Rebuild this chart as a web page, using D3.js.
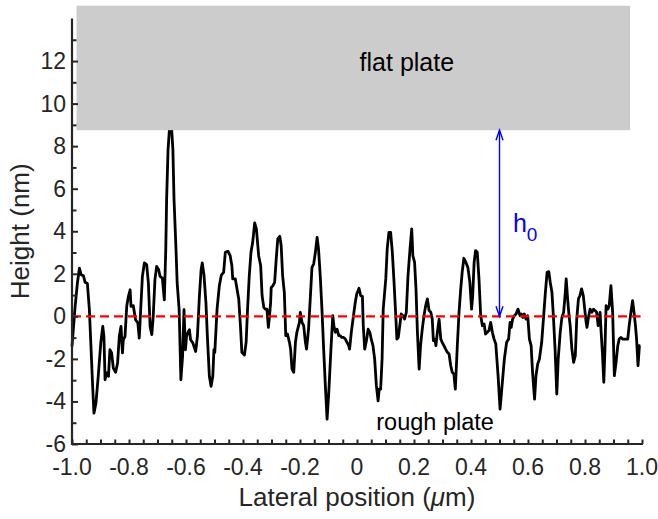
<!DOCTYPE html>
<html>
<head>
<meta charset="utf-8">
<script src="https://cdn.jsdelivr.net/npm/d3@7"></script>
<style>
  html, body { margin: 0; padding: 0; background: #fff; }
  svg { display: block; font-family: "Liberation Sans", Arial, Helvetica, sans-serif; }
</style>
</head>
<body>
<svg id="chart" width="658" height="519"></svg>
<script>
// ---- data ----
const xPos = [-1.000,-0.989,-0.981,-0.974,-0.968,-0.960,-0.954,-0.946,-0.939,-0.933,-0.927,-0.923,-0.916,-0.908,-0.899,-0.892,-0.888,-0.884,-0.878,-0.872,-0.867,-0.861,-0.855,-0.847,-0.840,-0.834,-0.828,-0.823,-0.820,-0.814,-0.808,-0.802,-0.796,-0.793,-0.785,-0.777,-0.769,-0.764,-0.759,-0.753,-0.746,-0.738,-0.732,-0.726,-0.720,-0.715,-0.709,-0.703,-0.696,-0.691,-0.683,-0.676,-0.671,-0.668,-0.663,-0.654,-0.646,-0.642,-0.635,-0.631,-0.624,-0.618,-0.612,-0.607,-0.602,-0.598,-0.592,-0.588,-0.584,-0.577,-0.572,-0.566,-0.560,-0.553,-0.547,-0.543,-0.537,-0.530,-0.525,-0.518,-0.512,-0.506,-0.502,
-0.499,-0.491,-0.483,-0.476,-0.468,-0.462,-0.453,-0.445,-0.439,-0.436,-0.427,-0.421,-0.415,-0.409,-0.404,-0.395,-0.389,-0.384,-0.378,-0.372,-0.366,-0.359,-0.353,-0.345,-0.338,-0.333,-0.327,-0.322,-0.316,-0.311,-0.308,-0.303,-0.301,-0.295,-0.289,-0.283,-0.278,-0.271,-0.266,-0.261,-0.255,-0.250,-0.244,-0.237,-0.233,-0.228,-0.222,-0.216,-0.211,-0.202,-0.199,-0.193,-0.187,-0.181,-0.177,-0.170,-0.164,-0.158,-0.152,-0.146,-0.140,-0.135,-0.129,-0.123,-0.117,-0.111,-0.105,-0.099,-0.092,-0.085,-0.081,-0.076,-0.070,-0.064,-0.059,-0.053,-0.047,-0.041,-0.035,-0.029,-0.026,-0.020,-0.014,-0.006,
-0.001,0.007,0.013,0.019,0.022,0.027,0.034,0.039,0.045,0.050,0.056,0.062,0.068,0.074,0.078,0.083,0.088,0.092,0.101,0.106,0.112,0.118,0.124,0.130,0.136,0.140,0.145,0.150,0.155,0.161,0.167,0.173,0.179,0.186,0.192,0.196,0.202,0.207,0.212,0.218,0.223,0.229,0.235,0.241,0.247,0.253,0.259,0.264,0.268,0.273,0.277,0.282,0.288,0.294,0.299,0.305,0.311,0.317,0.323,0.329,0.334,0.340,0.345,0.352,0.358,0.364,0.369,0.375,0.382,0.389,0.396,0.402,0.406,0.411,0.416,0.422,0.428,0.434,0.440,0.446,0.451,0.457,0.463,0.469,0.475,0.481,0.487,0.495,
0.502,0.509,0.517,0.525,0.532,0.537,0.541,0.546,0.552,0.558,0.565,0.572,0.577,0.582,0.587,0.593,0.599,0.605,0.611,0.616,0.623,0.628,0.634,0.640,0.648,0.655,0.661,0.667,0.673,0.678,0.684,0.689,0.695,0.701,0.706,0.713,0.719,0.725,0.730,0.734,0.739,0.744,0.748,0.754,0.760,0.766,0.771,0.777,0.782,0.788,0.794,0.799,0.804,0.807,0.813,0.818,0.824,0.830,0.835,0.841,0.846,0.853,0.856,0.861,0.866,0.870,0.874,0.880,0.885,0.891,0.897,0.903,0.909,0.915,0.920,0.926,0.932,0.944,0.950,0.955,0.961,0.967,0.972,0.977,0.981,0.986,0.991,0.994];

const heightNm = [-1.41,0.47,1.57,2.27,1.96,1.91,1.60,1.54,0.31,-1.57,-3.45,-4.55,-4.08,-2.82,-1.25,-0.47,-0.94,-2.98,-2.66,-2.82,-1.57,-1.72,-2.43,-2.63,-2.19,-0.94,-0.47,-1.72,-1.10,-0.94,0.47,0.94,1.25,0.47,0.50,-0.16,-0.31,-1.02,0.31,1.88,2.51,2.43,1.57,-0.47,-0.86,0.00,1.72,2.35,2.19,1.88,1.80,0.78,3.13,5.49,7.84,9.60,7.84,5.49,3.13,1.57,0.31,-2.98,-1.88,0.31,-1.57,-0.94,-0.71,-0.63,-1.10,-1.22,-1.41,-1.65,-0.94,0.94,2.19,2.51,1.96,0.63,-0.94,-2.82,-3.29,-2.82,-1.57,
-1.69,0.34,1.44,1.94,2.07,3.01,3.06,2.85,2.38,1.76,1.76,1.29,0.82,-0.44,-1.69,-1.82,-1.22,0.34,1.91,3.01,3.48,4.39,4.11,2.85,2.38,0.97,0.42,0.34,0.34,-0.52,-0.13,0.66,1.36,1.44,1.60,2.77,3.64,3.76,3.32,1.91,1.13,-0.91,-0.83,-1.22,-1.54,-2.48,-2.63,-1.22,-0.75,-0.28,0.19,-0.28,-0.44,-1.22,-1.54,-0.60,0.82,2.30,2.46,3.01,3.71,3.17,1.91,0.34,-1.54,-3.26,-4.83,-3.57,-1.69,0.03,-0.44,-0.75,-0.60,-0.91,-0.91,-0.99,-0.99,-1.07,-1.22,-1.38,-1.54,-0.75,-0.13,0.66,
1.05,1.32,0.97,0.94,-0.44,-1.54,-1.07,-0.60,-0.75,-1.07,-1.38,-2.01,-3.26,-3.97,-3.42,-3.42,-2.01,0.34,1.76,3.17,3.95,3.95,3.01,1.60,0.03,-1.07,-0.99,-0.44,0.11,0.03,-0.13,0.19,1.91,3.17,4.11,2.85,2.54,1.29,-0.75,-2.48,-1.38,-0.60,0.03,0.50,0.82,0.27,0.19,-0.13,-1.14,-1.07,-1.38,-0.75,-0.13,-1.07,-1.22,-1.38,-1.54,-1.69,-1.77,-2.32,-2.63,-2.71,-3.42,-1.38,0.19,1.29,2.07,2.73,2.54,2.30,1.60,0.34,0.97,2.54,3.09,3.01,1.76,0.03,-0.44,-0.36,-0.83,-0.75,-0.67,-0.28,-0.75,-1.07,-1.30,-2.79,
-4.36,-3.26,-2.01,-1.22,-1.07,-0.28,-0.52,-0.13,0.03,0.11,0.34,0.03,0.11,-0.05,0.11,-0.13,0.03,-1.07,-1.38,-2.63,-3.89,-2.79,-2.24,-2.01,-1.22,0.03,1.13,2.07,2.10,1.60,1.13,0.03,-1.54,-3.65,-2.01,-0.75,-0.05,0.19,0.97,1.76,0.82,0.03,-0.44,-1.54,-2.16,-1.85,-0.13,0.82,0.97,1.29,0.97,0.34,-0.28,-0.52,0.03,0.34,0.19,0.34,0.27,0.19,-0.44,0.19,-0.60,-1.69,-3.10,-1.54,0.50,0.34,0.50,1.44,0.19,-2.79,-2.16,-1.38,-1.07,-0.99,-1.07,-1.07,-1.07,-0.44,0.19,0.74,0.19,-0.44,-1.07,-2.32,-1.38,-1.38];

const xTickValues = [-1.0,-0.8,-0.6,-0.4,-0.2,0,0.2,0.4,0.6,0.8,1.0];
const xTickLabels = ["-1.0","-0.8","-0.6","-0.4","-0.2","0","0.2","0.4","0.6","0.8","1.0"];
const yTickValues = [-6,-4,-2,0,2,4,6,8,10,12];
const yTickLabels = ["-6","-4","-2","0","2","4","6","8","10","12"];

const plateExtentX = [-0.984, 0.958];
const plateExtentY = [8.75, 14.6];
const gapArrowX = 0.5;
const gapArrowY = [0, 8.75];

// ---- layout ----
const svg = d3.select("#chart");
const mLeft = 72, mRight = 642, mTop = 18.5, mBottom = 444;
const x = d3.scaleLinear().domain([-1, 1]).range([mLeft, mRight]);
const y = d3.scaleLinear().domain([-6, 14]).range([mBottom, mTop]);
const axisColor = "#262626";

// data line
const line = d3.line().x((d, i) => x(xPos[i])).y(d => y(d));
svg.append("path")
  .datum(heightNm)
  .attr("d", line)
  .attr("fill", "none")
  .attr("stroke", "#000")
  .attr("stroke-width", 2.8)
  .attr("stroke-linejoin", "round");

// zero dashed line
svg.append("line")
  .attr("x1", x(-1)).attr("x2", x(0.995))
  .attr("y1", y(0)).attr("y2", y(0))
  .attr("stroke", "#ff0000").attr("stroke-width", 2.2)
  .attr("stroke-dasharray", "9,5");

// flat plate
svg.append("rect")
  .attr("x", x(plateExtentX[0]))
  .attr("y", y(plateExtentY[1]))
  .attr("width", x(plateExtentX[1]) - x(plateExtentX[0]))
  .attr("height", y(plateExtentY[0]) - y(plateExtentY[1]))
  .attr("fill", "#cccccc");

svg.append("text")
  .attr("x", x(0.175)).attr("y", y(11.96))
  .attr("text-anchor", "middle").attr("dominant-baseline", "central")
  .attr("font-size", 25).attr("fill", "#000")
  .text("flat plate");

svg.append("text")
  .attr("x", x(0.274)).attr("y", y(-4.95))
  .attr("text-anchor", "middle").attr("dominant-baseline", "central")
  .attr("font-size", 23.5).attr("fill", "#000")
  .text("rough plate");

// h0 arrow
const blue = "#0000ff";
const ax = x(gapArrowX), ay0 = y(gapArrowY[0]), ay1 = y(gapArrowY[1]);
svg.append("line").attr("x1", ax).attr("x2", ax).attr("y1", ay0).attr("y2", ay1)
  .attr("stroke", blue).attr("stroke-width", 1.4);
svg.append("path")
  .attr("d", `M${ax-3.5},${ay0-10} L${ax},${ay0} L${ax+3.5},${ay0-10} M${ax-3.5},${ay1+10} L${ax},${ay1} L${ax+3.5},${ay1+10}`)
  .attr("fill", "none").attr("stroke", blue).attr("stroke-width", 1.4);
const h0 = svg.append("text")
  .attr("x", x(0.547)).attr("y", y(3.97))
  .attr("font-size", 25).attr("fill", blue);
h0.append("tspan").text("h");
h0.append("tspan").attr("dy", 9).attr("font-size", 19).text("0");

// axes
const xAxis = d3.axisBottom(x).tickValues(d3.range(-1, 1.0001, 0.05)).tickSize(0).tickFormat("");
const gx = svg.append("g").attr("transform", `translate(0,${mBottom})`).call(xAxis);
gx.select(".domain").remove();
gx.selectAll(".tick line").remove();
gx.selectAll(".tick").append("line").attr("y1", 0).attr("y2", -4.5)
  .attr("stroke", axisColor).attr("stroke-width", 2);
svg.append("line").attr("x1", mLeft - 1).attr("x2", mRight + 1).attr("y1", mBottom).attr("y2", mBottom)
  .attr("stroke", axisColor).attr("stroke-width", 2.2);

svg.append("g").selectAll("text").data(xTickValues).join("text")
  .attr("x", d => x(d)).attr("y", mBottom + 31)
  .attr("text-anchor", "middle")
  .attr("font-size", 23).attr("fill", axisColor)
  .text((d, i) => xTickLabels[i]);

const yAxis = d3.axisLeft(y).tickValues(d3.range(-6, 14, 1)).tickSize(0).tickFormat("");
const gy = svg.append("g").attr("transform", `translate(${mLeft},0)`).call(yAxis);
gy.select(".domain").remove();
gy.selectAll(".tick line").remove();
gy.selectAll(".tick").append("line").attr("x1", 0).attr("x2", d => (d % 2 === 0 ? 6 : 4.5))
  .attr("stroke", axisColor).attr("stroke-width", 2);
svg.append("line").attr("x1", mLeft).attr("x2", mLeft).attr("y1", mTop).attr("y2", mBottom + 1)
  .attr("stroke", axisColor).attr("stroke-width", 2.2);

svg.append("g").selectAll("text").data(yTickValues).join("text")
  .attr("x", mLeft - 6).attr("y", d => y(d))
  .attr("text-anchor", "end").attr("dominant-baseline", "central")
  .attr("font-size", 23).attr("fill", axisColor)
  .text((d, i) => yTickLabels[i]);

// axis titles
const xl = svg.append("text")
  .attr("x", (mLeft + mRight) / 2).attr("y", 506)
  .attr("text-anchor", "middle").attr("font-size", 26).attr("fill", axisColor);
xl.append("tspan").text("Lateral position (");
xl.append("tspan").attr("font-style", "italic").text("μ");
xl.append("tspan").text("m)");

svg.append("text")
  .attr("transform", `translate(29,${(mTop + mBottom) / 2}) rotate(-90)`)
  .attr("text-anchor", "middle").attr("font-size", 26).attr("fill", axisColor)
  .text("Height (nm)");
</script>
</body>
</html>
